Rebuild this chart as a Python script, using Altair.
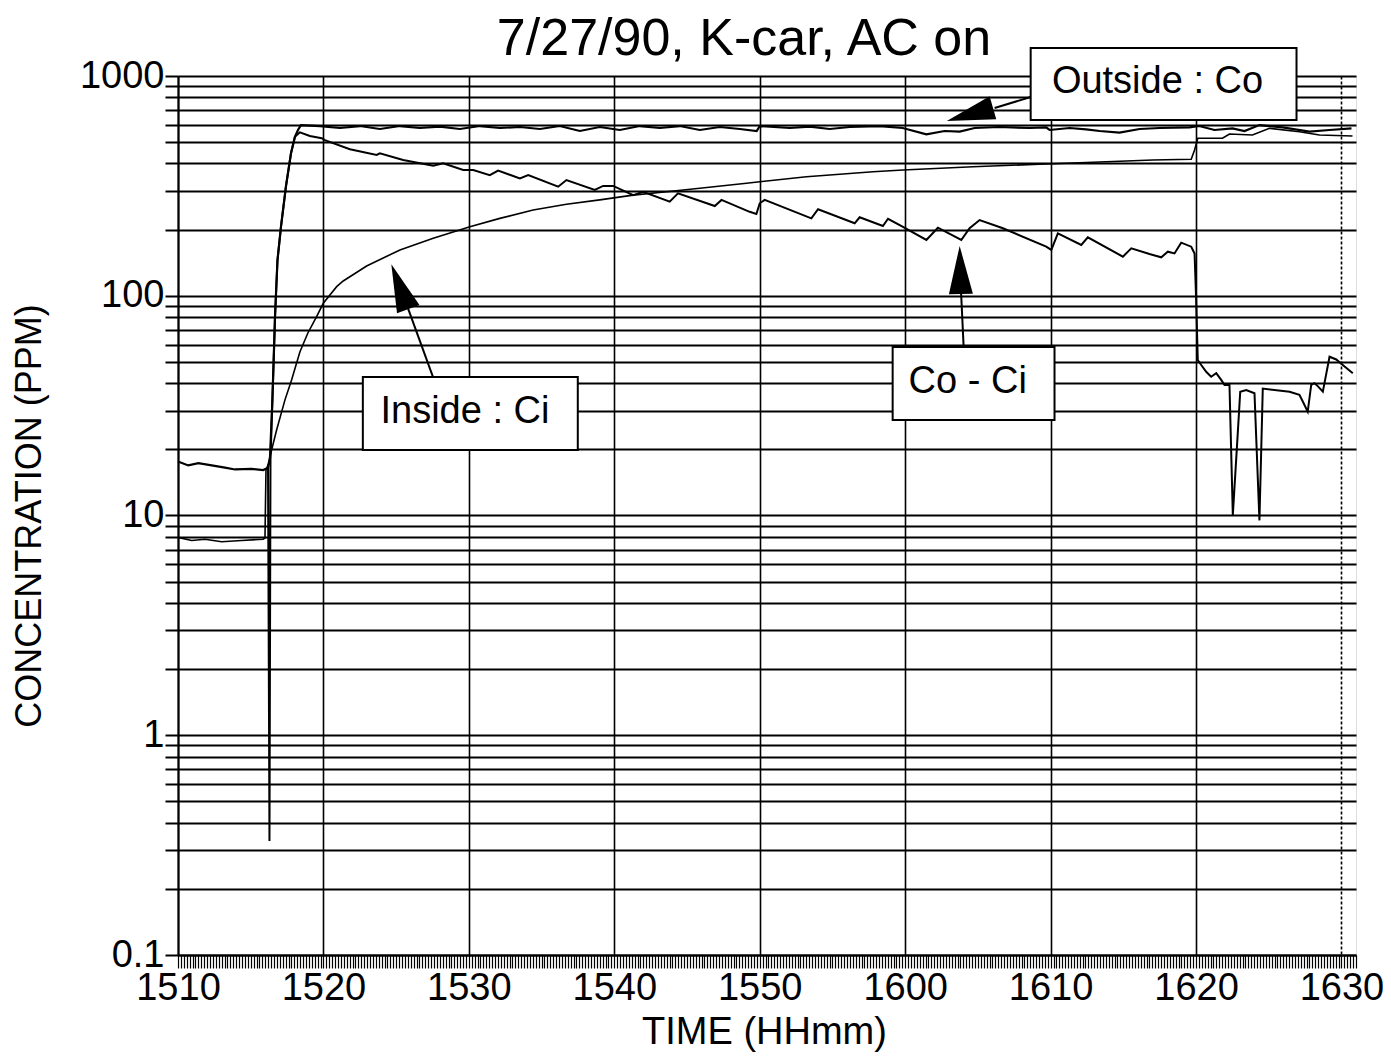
import altair as alt
import pandas as pd

FONT = "Liberation Sans"

# ---------------- data (minutes after 15:10, ppm) ----------------
# Outside : Co
co_min = [0.0, 0.71, 1.40, 2.32, 3.23, 3.92, 5.07, 5.86, 6.19, 6.32, 6.49, 6.60, 6.67, 6.84, 7.08, 7.42,
          7.77, 8.04, 8.25, 8.45, 9.76, 11.13, 12.51, 13.88, 15.26, 16.63, 18.0, 19.38, 20.76, 22.13,
          23.51, 24.88, 26.25, 27.63, 29.0, 30.38, 31.75, 33.13, 34.5, 35.88, 37.25, 38.63, 39.79, 40.0,
          42.06, 43.44, 44.81, 46.19, 48.25, 49.83, 51.46, 52.71, 53.75, 54.78, 56.49, 58.56, 59.70,
          59.93, 61.31, 62.45, 63.37, 64.74, 66.12, 67.49, 69.55, 70.22, 71.27, 72.51, 73.33, 74.36,
          75.95, 77.80, 79.18, 80.69]
co_ppm = [17.6, 16.9, 17.3, 16.9, 16.5, 16.2, 16.3, 16.1, 16.5, 18, 33.5, 56.6, 80, 145, 206, 314,
          445, 529, 568, 598, 592, 580, 592, 574, 592, 580, 588, 574, 592, 580,
          586, 574, 592, 562, 586, 568, 592, 580, 592, 568, 586, 574, 562, 592,
          580, 588, 574, 586, 592, 580, 543, 562, 558, 580, 586, 580, 584,
          568, 580, 572, 562, 553, 574, 580, 584, 592, 568, 578, 562, 598,
          584, 558, 568, 578]

# Inside : Ci
ci_min = [0.0, 0.94, 1.86, 3.0, 4.38, 5.86, 5.98, 6.05, 6.19, 6.32, 6.78, 7.35, 7.81, 8.38, 8.93, 9.53,
          9.99, 10.91, 11.36, 12.97, 15.26, 17.55, 20.07, 22.13, 24.42, 26.71, 29.0, 31.29, 33.59,
          35.88, 39.09, 40.0, 43.21, 47.79, 49.85, 54.66, 59.24, 63.83, 67.03, 69.67, 69.90, 70.12,
          71.82, 72.30, 73.88, 75.05, 77.11, 78.49, 80.76]
ci_ppm = [7.95, 7.7, 7.8, 7.6, 7.7, 7.8, 7.9, 16.1, 17.0, 18.5, 24.5, 33.5, 41.4, 55.5, 67.7, 80.3,
          92.4, 110, 116.7, 136.6, 161.6, 182.6, 206, 225, 245.6, 260.7, 273, 287, 297.5,
          308.3, 325, 330.4, 348, 366.8, 373.5, 386.7, 396.5, 407.4, 414.7, 417.8, 461, 521,
          521, 544.5, 539, 578, 558, 539, 533]

# Co - Ci
diff_min = [6.19, 6.29, 6.36, 6.49, 6.60, 6.67, 6.84, 7.08, 7.42, 7.77,
            8.04, 8.38, 9.07, 9.88, 10.10, 11.82, 13.66, 13.88, 15.48, 17.55,
            18.23, 19.61, 20.30, 21.44, 22.01, 23.51, 24.08, 26.14, 26.71, 28.66,
            29.23, 29.92, 31.30, 31.98, 33.81, 34.38, 36.91, 37.37, 39.31, 39.77,
            40.0, 40.34, 43.55, 44.01, 46.53, 46.87, 48.47, 48.82, 49.85, 51.46,
            52.25, 53.86, 54.43, 55.12, 56.72, 59.70, 60.05, 60.50, 62.11, 62.56,
            64.97, 65.55, 66.80, 67.61, 68.06, 68.52, 68.98, 69.67, 69.90, 70.01,
            70.12, 70.36, 70.70, 71.04, 71.39, 71.73, 71.96, 72.30, 72.53, 72.87,
            73.04, 73.45, 74.02, 74.36, 74.59, 76.43, 77.11, 77.34, 77.68, 77.92,
            78.14, 78.37, 78.72, 79.18, 79.64, 80.09, 80.78]
diff_ppm = [16.5, 0.33, 18, 33.5, 56.6, 80, 145, 206, 314, 445,
            529, 554, 533, 521, 511, 464, 437, 445, 415, 391,
            401, 373.5, 373.5, 354, 371, 342, 354, 313.5, 336, 303,
            316, 316, 287, 297.5, 268, 292.5, 256, 273, 241, 235.5,
            263.5, 273, 225, 247.5, 213.7, 227.5, 207.7, 224, 206, 179.4,
            204, 179.4, 202.8, 221, 202.8, 167.2, 161.6, 192.4, 170.2, 184.5,
            150.6, 164.4, 154.9, 149.6, 158.7, 155.8, 174.4, 167.2, 155.8, 95.7,
            51.0, 48.4, 45.1, 42.8, 44.4, 41.4, 39.3, 39.3, 10.05, 23.7,
            36.6, 37.2, 36.0, 9.5, 37.8, 36.6, 35.4, 33.0, 29.7, 39.3,
            40.0, 38.8, 36.6, 52.8, 51.3, 48.4, 44.4]

# axis ticks / labels
title_text = "7/27/90, K-car, AC on"
major_min = [0, 10, 20, 30, 40, 50, 60, 70, 80]
hhmm_labels = ["1510", "1520", "1530", "1540", "1550", "1600", "1610", "1620", "1630"]
decade_values = [0.1, 1, 10, 100, 1000]
decade_labels = ["0.1", "1", "10", "100", "1000"]

# annotations (data coordinates)
note_labels = ["Outside : Co", "Inside : Ci", "Co - Ci"]
note_text_min = [67.35, 19.73, 54.30]
note_text_ppm = [939, 29.6, 40.5]
box_min1 = [58.63, 12.71, 49.14]
box_min2 = [76.91, 27.49, 60.27]
box_ppm1 = [1341, 42.7, 58.5]
box_ppm2 = [630.7, 19.86, 27.2]
shaft_min1 = [56.15, 15.81, 53.85]
shaft_ppm1 = [715, 87.9, 101.9]
shaft_min2 = [58.63, 17.53, 54.02]
shaft_ppm2 = [802.6, 42.7, 58.5]
head_min = [54.45, 15.25, 53.79]
head_ppm = [669.5, 110, 131]
head_angle = [254, 339.4, 358.5]

# ---------------- frames ----------------
df_co = pd.DataFrame({"m": co_min, "ppm": co_ppm})
df_ci = pd.DataFrame({"m": ci_min, "ppm": ci_ppm})
df_diff = pd.DataFrame({"m": diff_min, "ppm": diff_ppm})
df_box = pd.DataFrame({"m": box_min1, "m2": box_min2, "ppm": box_ppm1, "ppm2": box_ppm2})
df_text = pd.DataFrame({"m": note_text_min, "ppm": note_text_ppm, "label": note_labels})
df_shaft = pd.DataFrame({"m": shaft_min1, "m2": shaft_min2, "ppm": shaft_ppm1, "ppm2": shaft_ppm2})
df_head = pd.DataFrame({"m": head_min, "ppm": head_ppm, "ang": head_angle})
df_title = pd.DataFrame({"t": [title_text]})

W, H = 1178, 879

x_ticks = [round(i * 0.2, 1) for i in range(0, 406)]
y_ticks = [round(k * 10 ** e, 4) for e in range(-1, 3) for k in range(1, 10)] + [1000]

lab_arr = "[" + ",".join("'%s'" % s for s in hhmm_labels) + "]"
major_test = "round(datum.value*10) % 100 == 0"
x_label_expr = f"{major_test} ? {lab_arr}[round(datum.value/10)] : ''"

dec_arr = "[" + ",".join(str(v) for v in decade_values) + "]"
dec_lab = "[" + ",".join("'%s'" % s for s in decade_labels) + "]"
dec_test = f"indexof({dec_arr}, datum.value) >= 0"
y_label_expr = f"{dec_test} ? {dec_lab}[indexof({dec_arr}, datum.value)] : ''"

x_axis = alt.Axis(
    values=x_ticks,
    labelExpr=x_label_expr,
    labelOverlap=False,
    labelFlush=False,
    labelFont=FONT,
    labelFontSize=38,
    labelColor="black",
    labelPadding=1,
    tickSize=13,
    tickWidth=1.2,
    tickColor="black",
    domainColor="black",
    domainWidth=2,
    grid=True,
    gridColor="black",
    gridWidth=1.6,
    gridOpacity={"condition": {"test": major_test, "value": 1}, "value": 0},
    gridDash={"condition": {"test": "datum.value == 80", "value": [3, 2]}, "value": []},
    title="TIME (HHmm)",
    titleFont=FONT,
    titleFontSize=38,
    titleFontWeight="normal",
    titleColor="black",
    titleX=586,
    titleY=88,
    titleBaseline="alphabetic",
)

y_axis = alt.Axis(
    values=y_ticks,
    labelExpr=y_label_expr,
    labelOverlap=False,
    labelFlush=False,
    labelFont=FONT,
    labelFontSize=38,
    labelColor="black",
    labelPadding=1,
    labelBaseline="middle",
    tickSize=13,
    tickWidth=2,
    tickColor="black",
    domainColor="black",
    domainWidth=2,
    grid=True,
    gridColor="black",
    gridWidth=2,
    title="CONCENTRATION (PPM)",
    titleFont=FONT,
    titleFontSize=36,
    titleFontWeight="normal",
    titleColor="black",
    titleAngle=270,
    titleX=-149,
    titleY=H / 2,
    titleAlign="center",
    titleBaseline="middle",
)

x_scale = alt.Scale(domain=[0, 81], nice=False, zero=False)
y_scale = alt.Scale(type="log", domain=[0.1, 1000], nice=False)

X = alt.X("m:Q", scale=x_scale, axis=x_axis)
Y = alt.Y("ppm:Q", scale=y_scale, axis=y_axis)

line_co = alt.Chart(df_co).mark_line(color="black", strokeWidth=2.2).encode(x=X, y=Y)
line_ci = alt.Chart(df_ci).mark_line(color="black", strokeWidth=1.6).encode(x=X, y=Y)
line_diff = alt.Chart(df_diff).mark_line(color="black", strokeWidth=2.0).encode(x=X, y=Y)

shafts = alt.Chart(df_shaft).mark_rule(color="black", strokeWidth=2).encode(
    x=X, y=Y, x2="m2:Q", y2="ppm2:Q"
)
heads = alt.Chart(df_head).mark_point(
    shape="M0,-1L-0.5,1L0.5,1Z", filled=True, color="black", opacity=1, size=2304, strokeWidth=0
).encode(x=X, y=Y, angle=alt.Angle("ang:Q", scale=None))
boxes = alt.Chart(df_box).mark_rect(fill="white", stroke="black", strokeWidth=2).encode(
    x=X, y=Y, x2="m2:Q", y2="ppm2:Q"
)
texts = alt.Chart(df_text).mark_text(
    font=FONT, fontSize=38, color="black", align="center", baseline="middle"
).encode(x=X, y=Y, text="label:N")

# chart title, drawn as text centred above the plot
title_mark = alt.Chart(df_title).mark_text(
    font=FONT, fontSize=52, color="black", align="center", baseline="alphabetic"
).encode(text="t:N", x=alt.value(566), y=alt.value(-21))

chart = (
    alt.layer(line_co, line_ci, line_diff, shafts, boxes, texts, heads, title_mark)
    .properties(
        width=W,
        height=H,
        autosize=alt.AutoSizeParams(type="none"),
        padding={"left": 170, "top": 68, "right": 27, "bottom": 100},
    )
    .configure_view(stroke="black", strokeWidth=2)
    .configure(background="white")
)

chart.save("out.html", embed_options={"renderer": "svg", "actions": False})
